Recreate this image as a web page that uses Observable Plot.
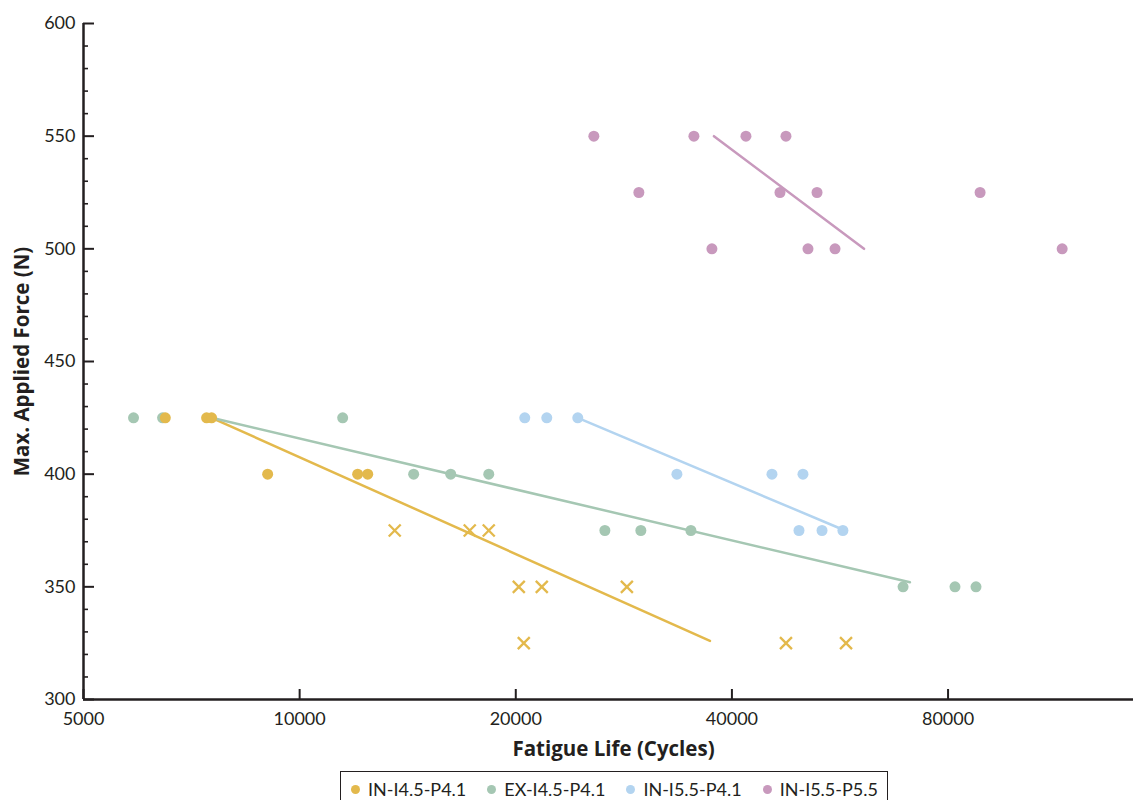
<!DOCTYPE html>
<html>
<head>
<meta charset="utf-8">
<script src="https://cdn.jsdelivr.net/npm/d3@7"></script>
<script src="https://cdn.jsdelivr.net/npm/@observablehq/plot@0.6"></script>
<style>
  html, body { margin: 0; padding: 0; background: #fff; }
  body { width: 1133px; height: 800px; position: relative; overflow: hidden; font-family: Lato, "Open Sans", sans-serif; color: #231f20; }
  #legend { position: absolute; left: 340px; top: 771px; width: 548px; height: 40px; box-sizing: border-box;
            border: 1px solid #231f20; display: flex; align-items: flex-start; gap: 21px;
            padding: 6px 0 0 10px; font-size: 18px; line-height: 22px; white-space: nowrap; }
  #legend .item { display: flex; align-items: center; gap: 8px; }
  #legend .sw { width: 9px; height: 9px; border-radius: 50%; display: inline-block; }
</style>
</head>
<body>
<div id="chart"></div>
<div id="legend"></div>
<script>
// ---- Data ----
const seriesNames = ["IN-I4.5-P4.1", "EX-I4.5-P4.1", "IN-I5.5-P4.1", "IN-I5.5-P5.5"];
const seriesColors = ["#e3b94c", "#a5c7b3", "#b3d4f0", "#c899bd"];

// IN-I4.5-P4.1 (circles and crosses)
const inI45Cycles = [6500, 7420, 7540, 9025, 12045, 12440];
const inI45Force  = [425, 425, 425, 400, 400, 400];
const inI45CrossCycles = [13565, 17255, 18340, 20195, 21740, 28560, 20520, 47570, 57675];
const inI45CrossForce  = [375, 375, 375, 350, 350, 350, 325, 325, 325];

// EX-I4.5-P4.1
const exI45Cycles = [5870, 6443, 11480, 14415, 16235, 18340, 26615, 29870, 35070, 69250, 81800, 87500];
const exI45Force  = [425, 425, 425, 400, 400, 400, 375, 375, 375, 350, 350, 350];

// IN-I5.5-P4.1
const inI55Cycles = [20585, 22090, 24400, 33530, 45480, 50235, 49600, 53400, 57100];
const inI55Force  = [425, 425, 425, 400, 400, 400, 375, 375, 375];

// IN-I5.5-P5.5
const inI55P55Cycles = [25690, 35410, 41840, 47570, 29680, 46665, 52550, 88650, 37515, 51050, 55675, 115350];
const inI55P55Force  = [550, 550, 550, 550, 525, 525, 525, 525, 500, 500, 500, 500];

// Fit lines (start / end) per series, in series order
const fitStartCycles = [7540, 7540, 24400, 37760];
const fitStartForce  = [425, 425, 425, 550];
const fitEndCycles   = [37280, 70800, 56500, 61100];
const fitEndForce    = [326, 352, 376, 500];

// Axis ticks
const xTicks = [5000, 10000, 20000, 40000, 80000];
const yMajorTicks = [300, 350, 400, 450, 500, 550, 600];
const yMinorTicks = d3.range(300, 601, 10).filter(v => v % 50 !== 0);
const xLabel = "Fatigue Life (Cycles)";
const yLabel = "Max. Applied Force (N)";

// ---- Build tables ----
const toRows = (xs, ys, s) => xs.map((x, i) => ({cycles: x, force: ys[i], series: s}));
const ptsIN45 = toRows(inI45Cycles, inI45Force, seriesNames[0]);
const crossIN45 = toRows(inI45CrossCycles, inI45CrossForce, seriesNames[0]);
const ptsEX45 = toRows(exI45Cycles, exI45Force, seriesNames[1]);
const ptsIN55 = toRows(inI55Cycles, inI55Force, seriesNames[2]);
const ptsIN55P55 = toRows(inI55P55Cycles, inI55P55Force, seriesNames[3]);
const fitRows = seriesNames.flatMap((s, i) => [
  {cycles: fitStartCycles[i], force: fitStartForce[i], series: s},
  {cycles: fitEndCycles[i], force: fitEndForce[i], series: s}
]);

const W = 1133, H = 768, mL = 83, mR = 0, mT = 23, mB = 69;
const ink = "#231f20";
const plotW = W - mL - mR, plotH = H - mT - mB;
const titleFont = "'Open Sans', Lato, sans-serif";

const chart = Plot.plot({
  width: W, height: H,
  marginLeft: mL, marginRight: mR, marginTop: mT, marginBottom: mB,
  style: {fontFamily: "Lato, 'Open Sans', sans-serif", fontSize: "18px", color: ink, background: "#fff"},
  x: {type: "log", domain: [5000, 145000], axis: null},
  y: {domain: [300, 600], axis: null},
  color: {domain: seriesNames, range: seriesColors},
  marks: [
    // fit lines
    Plot.line(fitRows, {x: "cycles", y: "force", z: "series", stroke: "series", strokeWidth: 2.5}),
    // points
    Plot.dot(ptsEX45, {x: "cycles", y: "force", fill: "series", r: 5.5}),
    Plot.dot(ptsIN45, {x: "cycles", y: "force", fill: "series", r: 5.5}),
    Plot.dot(crossIN45, {x: "cycles", y: "force", stroke: "series", symbol: "times", r: 5.5, strokeWidth: 2.3}),
    Plot.dot(ptsIN55, {x: "cycles", y: "force", fill: "series", r: 5.5}),
    Plot.dot(ptsIN55P55, {x: "cycles", y: "force", fill: "series", r: 5.5}),
    // axis tick marks (inward)
    Plot.tickY(yMinorTicks, {y: d => d, stroke: ink, strokeWidth: 1.6, insetRight: plotW - 5}),
    Plot.tickY(yMajorTicks, {y: d => d, stroke: ink, strokeWidth: 2, insetRight: plotW - 11}),
    Plot.tickX(xTicks, {x: d => d, stroke: ink, strokeWidth: 2, insetTop: plotH - 10}),
    // tick labels
    Plot.text(yMajorTicks, {y: d => d, text: d => String(d), frameAnchor: "left", textAnchor: "end", dx: -8, fill: ink}),
    Plot.text(xTicks, {x: d => d, text: d => String(d), frameAnchor: "bottom", lineAnchor: "middle", dy: 20, fill: ink}),
    // axis lines
    Plot.ruleX([5000], {stroke: ink, strokeWidth: 2.5}),
    Plot.ruleY([300], {stroke: ink, strokeWidth: 2.5}),
    // titles
    Plot.text([xLabel], {text: d => d, frameAnchor: "bottom", textAnchor: "middle", lineAnchor: "middle", dy: 50, dx: 5,
                         fontFamily: titleFont, fontWeight: "bold", fontSize: 20.5, fill: ink}),
    Plot.text([yLabel], {text: d => d, frameAnchor: "left", textAnchor: "middle", lineAnchor: "middle", dx: -61, rotate: -90,
                         fontFamily: titleFont, fontWeight: "bold", fontSize: 20.5, fill: ink})
  ]
});
document.getElementById("chart").appendChild(chart);

// legend
const legend = d3.select("#legend");
seriesNames.forEach((n, i) => {
  const item = legend.append("span").attr("class", "item");
  item.append("span").attr("class", "sw").style("background", seriesColors[i]);
  item.append("span").text(n);
});
</script>
</body>
</html>
